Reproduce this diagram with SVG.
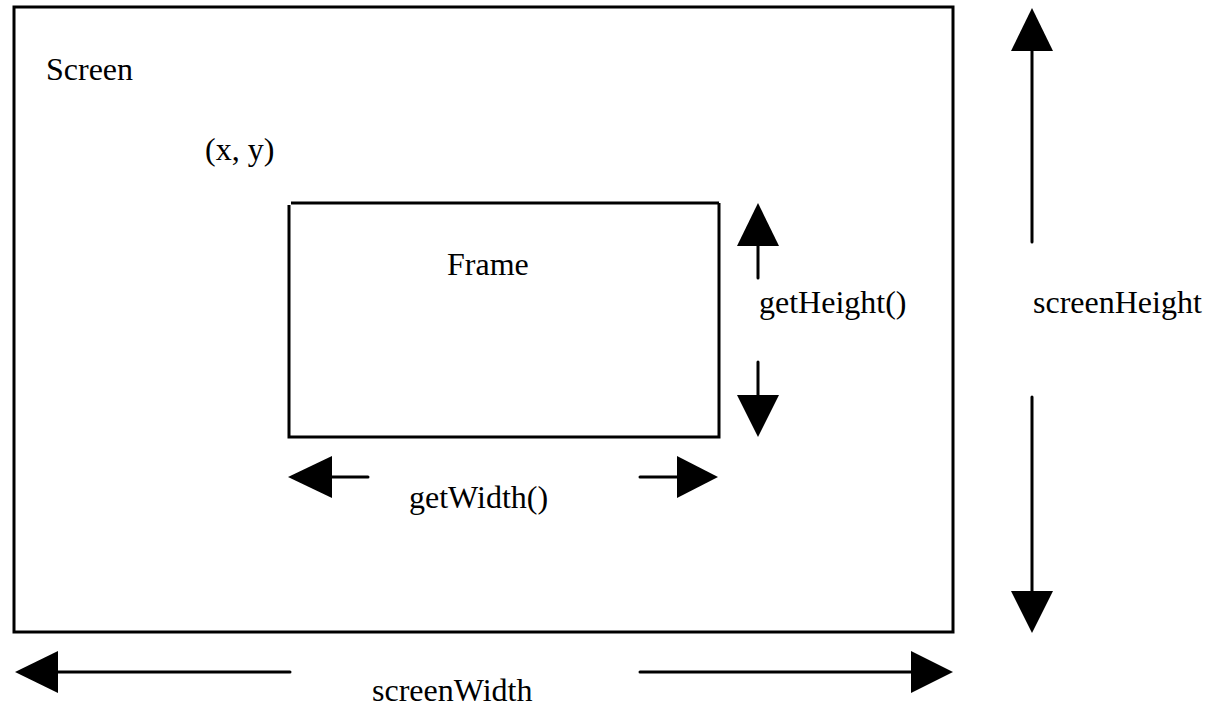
<svg xmlns="http://www.w3.org/2000/svg" width="1207" height="708" viewBox="0 0 1207 708">
  <style>
    .box { fill: none; stroke: #000; stroke-width: 3; }
    .shaft { stroke: #000; stroke-width: 3; stroke-linecap: round; fill: none; }
    .head { fill: #000; stroke: none; }
    text { font-family: "Liberation Serif", "Times New Roman", serif; font-size: 32px; fill: #000; }
  </style>
  <rect width="1207" height="708" fill="#fff"/>

  <!-- screen outline -->
  <g id="screen">
    <rect class="box" x="14" y="7" width="939" height="625"/>
    <text x="46" y="80">Screen</text>
    <text x="205" y="160">(x, y)</text>
  </g>

  <!-- frame placed inside the screen -->
  <g id="frame">
    <line class="box" x1="291" y1="203" x2="719" y2="203"/>
    <polyline class="box" points="719,203 719,437 289,437 289,205"/>
    <text x="447" y="275">Frame</text>
  </g>

  <g id="labels">
    <text x="759" y="313">getHeight()</text>
    <text x="1033" y="313">screenHeight</text>
    <text x="409" y="508">getWidth()</text>
    <text x="372" y="701">screenWidth</text>
  </g>

  <!-- dimension arrows -->
  <g id="connectors">
    <!-- getHeight -->
    <line class="shaft" x1="758" y1="245" x2="758" y2="278"/>
    <polygon class="head" points="758,203 737,246 779,246"/>
    <line class="shaft" x1="758" y1="362" x2="758" y2="396"/>
    <polygon class="head" points="758,437 737,395 779,395"/>
    <!-- getWidth -->
    <line class="shaft" x1="331" y1="477" x2="368" y2="477"/>
    <polygon class="head" points="288,477 332,456 332,498"/>
    <line class="shaft" x1="640" y1="477" x2="678" y2="477"/>
    <polygon class="head" points="718,477 677,456 677,498"/>
    <!-- screenHeight -->
    <line class="shaft" x1="1032" y1="49" x2="1032" y2="242"/>
    <polygon class="head" points="1032,8 1011,51 1053,51"/>
    <line class="shaft" x1="1032" y1="397" x2="1032" y2="593"/>
    <polygon class="head" points="1032,633 1011,591 1053,591"/>
    <!-- screenWidth -->
    <line class="shaft" x1="56" y1="672" x2="290" y2="672"/>
    <polygon class="head" points="15,672 58,651 58,693"/>
    <line class="shaft" x1="640" y1="672" x2="913" y2="672"/>
    <polygon class="head" points="953,672 911,651 911,693"/>
  </g>
</svg>
